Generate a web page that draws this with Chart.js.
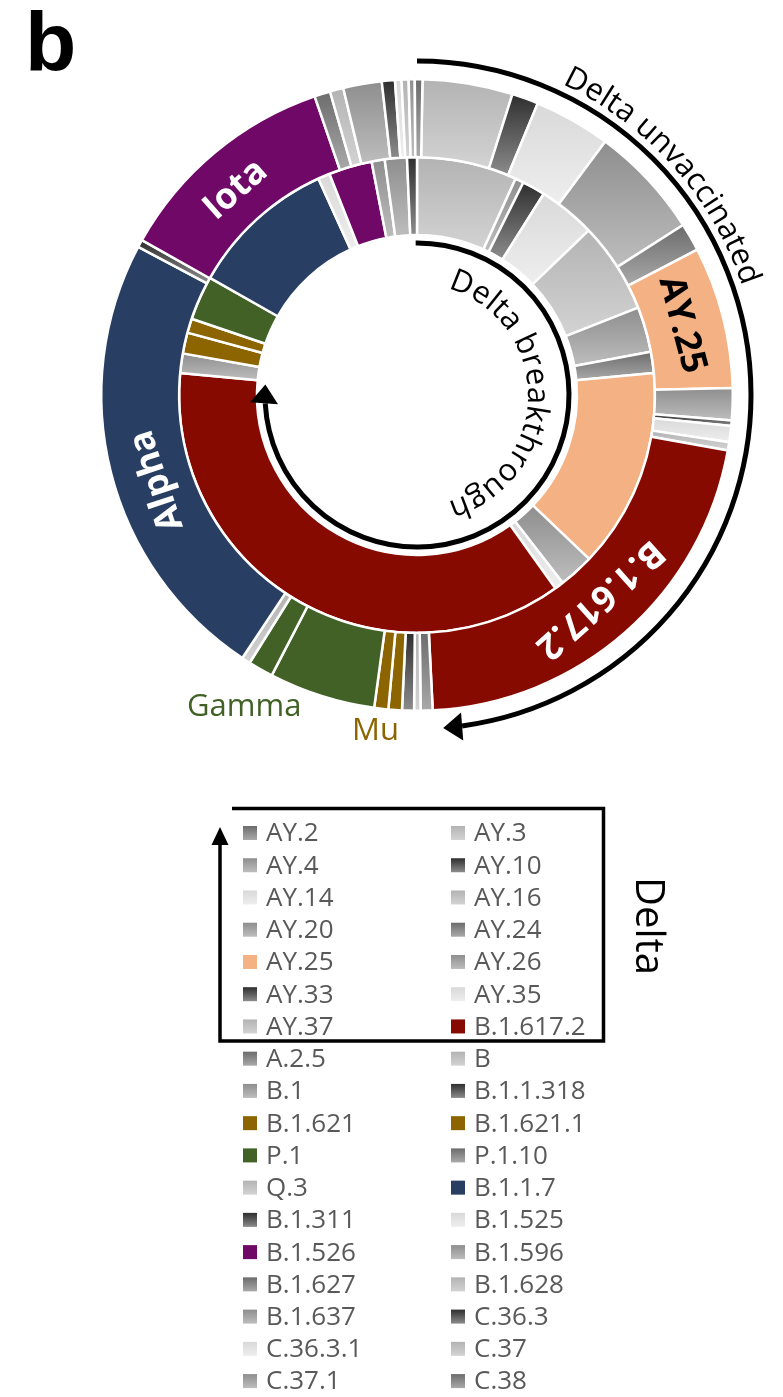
<!DOCTYPE html>
<html>
<head>
<meta charset="utf-8">
<script src="https://cdn.jsdelivr.net/npm/chart.js@4.4.1/dist/chart.umd.min.js"></script>
<style>
  html, body { margin: 0; padding: 0; background: #fff; }
  canvas { display: block; }
</style>
</head>
<body>
<canvas id="sunburst" width="783" height="1397"></canvas>
<script>
// outer ring: Delta unvaccinated, share of sequences (%)
const outerLineages = ['AY.3', 'AY.10', 'AY.14', 'AY.20', 'AY.24', 'AY.25', 'AY.26', 'AY.33', 'AY.35', 'AY.37',
  'B.1.617.2', 'A.2.5', 'B', 'B.1.1.318', 'B.1.621', 'B.1.621.1', 'P.1', 'P.1', 'Q.3', 'B.1.1.7',
  'B.1.311', 'B.1.526', 'B.1.627', 'B.1.628', 'B.1.637', 'C.36.3', 'C.36.3.1', 'C.37', 'C.37.1', 'C.38'];
const outerValues = [4.61, 1.36, 3.92, 5.78, 1.44, 7.25, 1.64, 0.28, 0.83, 0.42,
  21.39, 0.61, 0.33, 0.61, 0.69, 0.72, 5.44, 1.28, 0.44, 23.44,
  0.39, 11.58, 0.81, 0.69, 1.97, 0.67, 0.33, 0.36, 0.31, 0.39];

// inner ring: Delta breakthrough (%)
const innerLineages = ['AY.3', 'AY.4', 'AY.10', 'AY.14', 'AY.16', 'AY.20', 'AY.24', 'AY.25', 'AY.26', 'AY.35',
  'B.1.617.2', 'B.1', 'B.1.621', 'B.1.621.1', 'P.1', 'B.1.1.7', 'B.1.525', 'B.1.526', 'B.1.596', 'B.1.637', 'C.36.3'];
const innerValues = [6.81, 0.58, 1.56, 3.89, 6.17, 3.08, 1.44, 13.58, 2.39, 0.61,
  36.36, 1.33, 1.42, 0.97, 3.0, 10.0, 0.81, 2.94, 0.89, 1.5, 0.67];

// legend entries, two columns, row by row
const legendLineages = ['AY.2', 'AY.3', 'AY.4', 'AY.10', 'AY.14', 'AY.16', 'AY.20', 'AY.24', 'AY.25', 'AY.26',
  'AY.33', 'AY.35', 'AY.37', 'B.1.617.2', 'A.2.5', 'B', 'B.1', 'B.1.1.318', 'B.1.621', 'B.1.621.1',
  'P.1', 'P.1.10', 'Q.3', 'B.1.1.7', 'B.1.311', 'B.1.525', 'B.1.526', 'B.1.596', 'B.1.627', 'B.1.628',
  'B.1.637', 'C.36.3', 'C.36.3.1', 'C.37', 'C.37.1', 'C.38'];

// grey shades are vertical gradients [top, bottom]
const shade = {
  dark:    ['#2e2e2e', '#8c8c8c'],
  medDark: ['#6c6c6c', '#a9a9a9'],
  medium:  ['#8e8e8e', '#bdbdbd'],
  light:   ['#b3b3b3', '#d3d3d3'],
  vlight:  ['#d9d9d9', '#eeeeee']
};
const lineageColor = {
  'AY.2': shade.medDark, 'AY.3': shade.light, 'AY.4': shade.medium, 'AY.10': shade.dark,
  'AY.14': shade.vlight, 'AY.16': shade.light, 'AY.20': shade.medium, 'AY.24': shade.medDark,
  'AY.25': '#f4b183', 'AY.26': shade.medium, 'AY.33': shade.dark, 'AY.35': shade.vlight,
  'AY.37': shade.light, 'B.1.617.2': '#870a00', 'A.2.5': shade.medDark, 'B': shade.light,
  'B.1': shade.medium, 'B.1.1.318': shade.dark, 'B.1.621': '#8c6500', 'B.1.621.1': '#8c6500',
  'P.1': '#416126', 'P.1.10': shade.medDark, 'Q.3': shade.light, 'B.1.1.7': '#283f63',
  'B.1.311': shade.dark, 'B.1.525': shade.vlight, 'B.1.526': '#6f0866', 'B.1.596': shade.medium,
  'B.1.627': shade.medDark, 'B.1.628': shade.light, 'B.1.637': shade.medium, 'C.36.3': shade.dark,
  'C.36.3.1': shade.vlight, 'C.37': shade.light, 'C.37.1': shade.medium, 'C.38': shade.medDark
};
const flat = c => Array.isArray(c) ? c[1] : c;

const ringLabels = [
  { ring: 0, lineage: 'B.1.526', text: 'Iota', color: '#ffffff', shift: -1.7 },
  { ring: 0, lineage: 'B.1.1.7', text: 'Alpha', color: '#ffffff', shift: -4 },
  { ring: 0, lineage: 'AY.25', text: 'AY.25', color: '#000000', shift: -0.5 },
  { ring: 0, lineage: 'B.1.617.2', text: 'B.1.617.2', color: '#ffffff', shift: -0.5 }
];

const FONT = '"Open Sans", "Noto Sans", sans-serif';
const rad = d => d * Math.PI / 180;

// paint grey segments with a top-to-bottom gradient
const gradientFill = {
  id: 'gradientFill',
  beforeDatasetsDraw(chart) {
    const ctx = chart.ctx;
    chart.data.datasets.forEach((ds, di) => {
      chart.getDatasetMeta(di).data.forEach((arc, i) => {
        const c = lineageColor[ds.lineages[i]];
        if (!Array.isArray(c)) return;
        let minY = Infinity, maxY = -Infinity;
        for (let k = 0; k <= 20; k++) {
          const a = arc.startAngle + (arc.endAngle - arc.startAngle) * k / 20;
          [arc.innerRadius, arc.outerRadius].forEach(r => {
            const y = arc.y + r * Math.sin(a);
            minY = Math.min(minY, y); maxY = Math.max(maxY, y);
          });
        }
        if (maxY - minY < 1) maxY = minY + 1;
        const g = ctx.createLinearGradient(0, minY, 0, maxY);
        g.addColorStop(0, c[0]);
        g.addColorStop(1, c[1]);
        arc.options = Object.assign({}, arc.options, { backgroundColor: g });
      });
    });
  }
};

function arcText(ctx, text, cx, cy, r, th0, th1) {
  const widths = [...text].map(ch => ctx.measureText(ch).width);
  const total = widths.reduce((a, b) => a + b, 0);
  const scale = rad(th1 - th0) / total;
  let acc = 0;
  [...text].forEach((ch, i) => {
    const th = rad(th0) + (acc + widths[i] / 2) * scale;
    acc += widths[i];
    ctx.save();
    ctx.translate(cx + r * Math.sin(th), cy - r * Math.cos(th));
    ctx.rotate(th);
    ctx.textAlign = 'center';
    ctx.textBaseline = 'alphabetic';
    ctx.fillText(ch, 0, 0);
    ctx.restore();
  });
}

function arcArrow(ctx, cx, cy, r, th0, thTip, headLen, headW) {
  const tip = rad(thTip);
  const lineEnd = tip - headLen / r;
  ctx.beginPath();
  ctx.arc(cx, cy, r, rad(th0 - 90), lineEnd - Math.PI / 2);
  ctx.stroke();
  const px = cx + r * Math.sin(tip), py = cy - r * Math.cos(tip);
  const tx = Math.cos(tip), ty = Math.sin(tip);
  const bx = px - tx * headLen, by = py - ty * headLen;
  ctx.beginPath();
  ctx.moveTo(px, py);
  ctx.lineTo(bx - ty * headW / 2, by + tx * headW / 2);
  ctx.lineTo(bx + ty * headW / 2, by - tx * headW / 2);
  ctx.closePath();
  ctx.fill();
}

const decor = {
  id: 'decor',
  afterDraw(chart) {
    const ctx = chart.ctx;
    const first = chart.getDatasetMeta(0).data[0];
    const cx = first.x, cy = first.y;

    // group names written on the rings
    ringLabels.forEach(lb => {
      const ds = chart.data.datasets[lb.ring];
      const el = chart.getDatasetMeta(lb.ring).data[ds.lineages.indexOf(lb.lineage)];
      const mid = (el.startAngle + el.endAngle) / 2 + rad(lb.shift);
      const r = (el.innerRadius + el.outerRadius) / 2 - 3;
      ctx.save();
      ctx.translate(el.x + r * Math.cos(mid), el.y + r * Math.sin(mid));
      ctx.rotate(mid + Math.PI / 2);
      ctx.font = 'bold 36px ' + FONT;
      ctx.fillStyle = lb.color;
      ctx.textAlign = 'center';
      ctx.textBaseline = 'middle';
      ctx.fillText(lb.text, 0, 0);
      ctx.restore();
    });

    // arrows around the rings
    ctx.save();
    ctx.strokeStyle = '#000';
    ctx.fillStyle = '#000';
    ctx.lineWidth = 5;
    arcArrow(ctx, cx, cy, 152, -0.5, 274, 19, 28);
    arcArrow(ctx, cx, cy, 334, 0, 175.5, 19, 28);

    ctx.font = '31px ' + FONT;
    arcText(ctx, 'Delta unvaccinated', cx, cy, 343, 25, 71.5);
    arcText(ctx, 'Delta breakthrough', cx, cy, 111, 16, 164);

    ctx.font = '31px ' + FONT;
    ctx.textAlign = 'left';
    ctx.textBaseline = 'alphabetic';
    ctx.fillStyle = '#416126';
    ctx.fillText('Gamma', 187, 716);
    ctx.fillStyle = '#8c6500';
    ctx.fillText('Mu', 352, 740);

    ctx.fillStyle = '#000';
    ctx.font = 'bold 84px "Liberation Sans", Arial, sans-serif';
    ctx.fillText('b', 25, 71);

    // legend
    const colX = [243, 451], rowY0 = 833, rowH = 32.24;
    ctx.font = '26px ' + FONT;
    ctx.textBaseline = 'middle';
    legendLineages.forEach((name, i) => {
      const x = colX[i % 2], y = rowY0 + Math.floor(i / 2) * rowH;
      const c = lineageColor[name];
      if (Array.isArray(c)) {
        const g = ctx.createLinearGradient(0, y - 7, 0, y + 7);
        g.addColorStop(0, c[0]);
        g.addColorStop(1, c[1]);
        ctx.fillStyle = g;
      } else {
        ctx.fillStyle = c;
      }
      ctx.fillRect(x, y - 7, 14, 14);
      ctx.fillStyle = '#595959';
      ctx.fillText(name, x + 23, y + 1);
    });

    // box around the Delta lineages
    ctx.lineWidth = 3.5;
    ctx.strokeStyle = '#000';
    ctx.fillStyle = '#000';
    ctx.beginPath();
    ctx.moveTo(232, 808.5);
    ctx.lineTo(603.5, 808.5);
    ctx.lineTo(603.5, 1041);
    ctx.lineTo(220, 1041);
    ctx.lineTo(220, 844);
    ctx.stroke();
    ctx.beginPath();
    ctx.moveTo(220, 827);
    ctx.lineTo(228.5, 845);
    ctx.lineTo(211.5, 845);
    ctx.closePath();
    ctx.fill();

    ctx.save();
    ctx.translate(636, 926);
    ctx.rotate(Math.PI / 2);
    ctx.font = '40px ' + FONT;
    ctx.textAlign = 'center';
    ctx.textBaseline = 'alphabetic';
    ctx.fillText('Delta', 0, 0);
    ctx.restore();
    ctx.restore();
  }
};

new Chart(document.getElementById('sunburst'), {
  type: 'doughnut',
  data: {
    labels: outerLineages,
    datasets: [
      {
        label: 'Delta unvaccinated',
        data: outerValues,
        lineages: outerLineages,
        rotation: 1,
        backgroundColor: outerLineages.map(l => flat(lineageColor[l])),
        borderColor: '#ffffff',
        borderWidth: 2.5
      },
      {
        label: 'Delta breakthrough',
        data: innerValues,
        lineages: innerLineages,
        backgroundColor: innerLineages.map(l => flat(lineageColor[l])),
        borderColor: '#ffffff',
        borderWidth: 2.5
      }
    ]
  },
  options: {
    responsive: false,
    animation: false,
    cutout: 160,
    layout: { padding: { left: 100, right: 49, top: 78, bottom: 685 } },
    plugins: { legend: { display: false }, tooltip: { enabled: false } }
  },
  plugins: [gradientFill, decor]
});
</script>
</body>
</html>
